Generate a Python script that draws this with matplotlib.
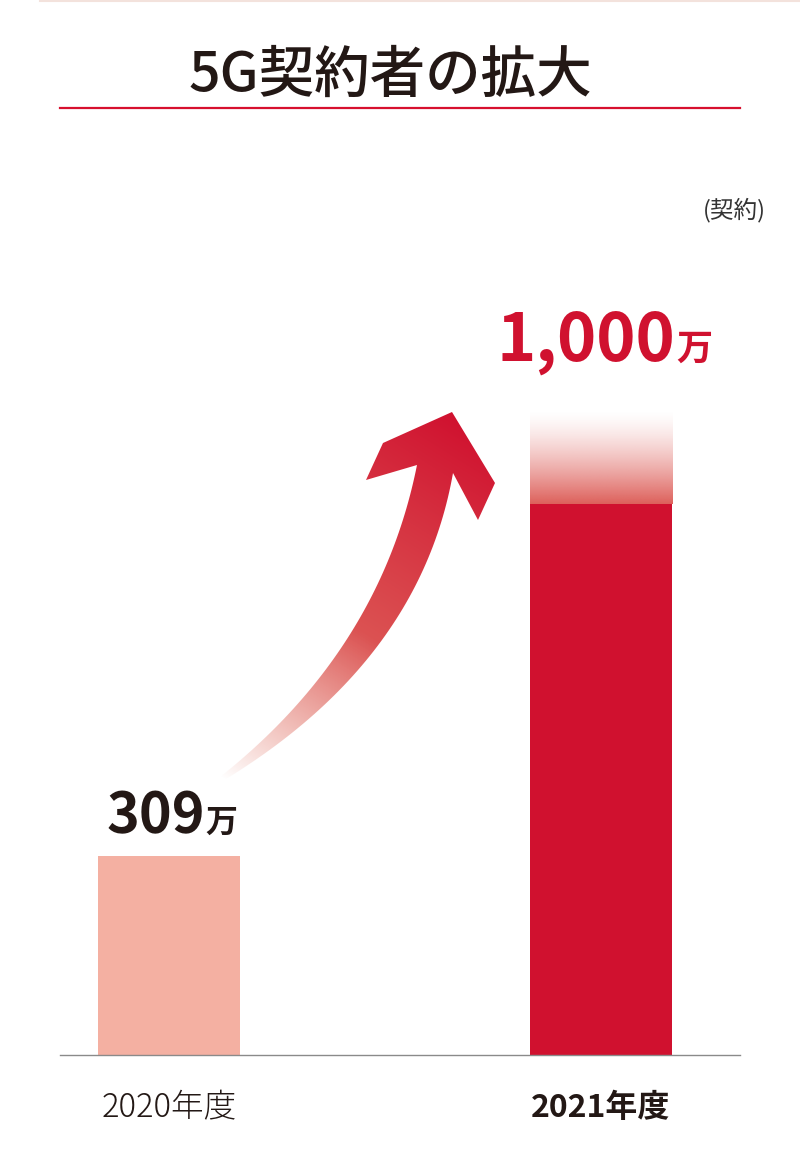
import numpy as np
import matplotlib.pyplot as plt
from matplotlib.patches import Polygon
from matplotlib.colors import to_rgb

plt.rcParams['font.family'] = ['Noto Sans CJK JP', 'DejaVu Sans']

# data
years = ['2020年度', '2021年度']
values = [309, 1000]
value_labels = ['309', '1,000']
unit = '万'
title = '5G契約者の拡大'
unit_note = '(契約)'

red = '#D0112F'
pink = '#F4B0A2'
ink = '#231815'

W, H = 800, 1166
fig = plt.figure(figsize=(W / 100, H / 100), dpi=100)

# main axes: baseline at y=1055px, x from 60 to 740px
ax = fig.add_axes([60 / W, (H - 1055) / H, 680 / W, 944 / H])
ax.set_xlim(-0.252, 1.322)
ax.set_ylim(0, 1466)
for s in ['top', 'right', 'left']:
    ax.spines[s].set_visible(False)
ax.spines['bottom'].set_color('#8a8a8a')
ax.spines['bottom'].set_linewidth(1.0)
ax.set_xticks([])
ax.set_yticks([])
ax.patch.set_alpha(0)

x = np.arange(len(values))
bw = 0.329
fade_start = 0.855  # share of the 2021 bar drawn solid

ax.bar(x[0], values[0], bw, color=pink, zorder=2)
ax.bar(x[1], values[1] * fade_start, bw, color=red, zorder=2)

# fading top of the 2021 bar
n = 200
t = np.linspace(0, 1, n)[:, None]
c0 = np.array(to_rgb('#D94A44'))
grad = np.zeros((n, 2, 4))
grad[..., :3] = c0
grad[..., 3] = (0.88 * (1 - t) ** 1.4)
ax.imshow(grad, extent=(x[1] - bw / 2, x[1] + bw / 2, values[1] * fade_start, values[1]),
          origin='lower', aspect='auto', zorder=2, interpolation='bilinear')
ax.set_xlim(-0.252, 1.322)
ax.set_ylim(0, 1466)

# value labels
ax.annotate(value_labels[0], xy=(x[0], values[0]), xytext=(36, 24), textcoords='offset pixels',
            ha='right', va='baseline', fontsize=40, fontweight='bold', color=ink)
ax.annotate(unit, xy=(x[0], values[0]), xytext=(37, 24), textcoords='offset pixels',
            ha='left', va='baseline', fontsize=23, fontweight='bold', color=ink)
ax.annotate(value_labels[1], xy=(x[1], values[1]), xytext=(74, 51), textcoords='offset pixels',
            ha='right', va='baseline', fontsize=48, fontweight='bold', color=red)
ax.annotate(unit, xy=(x[1], values[1]), xytext=(75, 51), textcoords='offset pixels',
            ha='left', va='baseline', fontsize=26, fontweight='bold', color=red)

# category labels
ax.annotate(years[0], xy=(x[0], 0), xytext=(0, -53), textcoords='offset pixels',
            ha='center', va='center', fontsize=23.5, fontweight='light', color=ink)
ax.annotate(years[1], xy=(x[1], 0), xytext=(0, -53), textcoords='offset pixels',
            ha='center', va='center', fontsize=23, fontweight='bold', color=ink)

# overlay in pixel coords for title, rules and the arrow
ov = fig.add_axes([0, 0, 1, 1])
ov.set_xlim(0, W)
ov.set_ylim(H, 0)
ov.axis('off')

ov.plot([40, 800], [1, 1], color='#f3e2dc', lw=1.5)
ov.plot([60, 740], [108, 108], color='#D7102E', lw=1.6)
ov.text(390, 76, title, ha='center', va='center', fontsize=40, fontweight='medium', color=ink)
ov.text(766, 210, unit_note, ha='right', va='center', fontsize=17, color='#333333')


def bez(p0, p1, p2, k=60):
    s = np.linspace(0, 1, k)[:, None]
    p0, p1, p2 = map(np.array, (p0, p1, p2))
    return (1 - s) ** 2 * p0 + 2 * (1 - s) * s * p1 + s ** 2 * p2


left = bez((220, 777), (380, 650), (417, 465))
right = bez((226, 779), (420, 660), (453, 473))
head = np.array([(366, 480), (383, 443), (452, 412), (495, 483), (478, 520)])
pts = np.vstack([left, head, right[::-1]])
arrow = Polygon(pts, closed=True, facecolor='none', edgecolor='none')
ov.add_patch(arrow)

x0, x1, y0, y1 = 200, 510, 400, 790
gx, gy = np.meshgrid(np.linspace(x0, x1, 320), np.linspace(y0, y1, 400))
tail = np.array([222, 778])
tip = np.array([452, 412])
d = tip - tail
tt = ((gx - tail[0]) * d[0] + (gy - tail[1]) * d[1]) / (d @ d)
tt = np.clip(tt, 0, 1)
ca = np.array(to_rgb('#E27766'))
cb = np.array(to_rgb(red))
img = np.zeros(gx.shape + (4,))
img[..., :3] = ca + (cb - ca) * tt[..., None] ** 1.3
img[..., 3] = np.clip(tt * 2.2, 0, 1) ** 0.9
im = ov.imshow(img, extent=(x0, x1, y1, y0), origin='upper', aspect='auto', interpolation='bilinear')
im.set_clip_path(arrow)
ov.set_xlim(0, W)
ov.set_ylim(H, 0)

fig.savefig('out.png', dpi=100)
